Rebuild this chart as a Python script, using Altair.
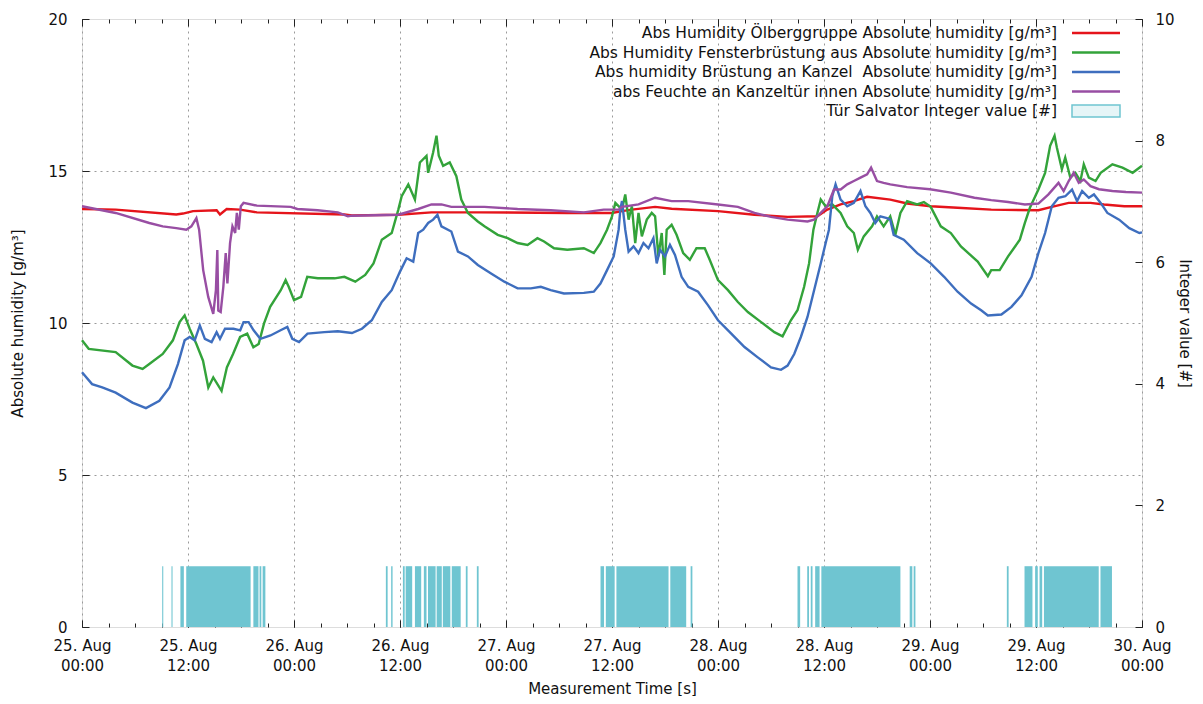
import altair as alt
import pandas as pd

# ---------------- data (hours after 25 Aug 00:00) -------------
red_h = [0, 3.81, 10.67, 11.43, 12.57, 15.24, 15.62, 16.38, 17.9, 19.8, 29.7,
         30.56, 35.81, 39.56, 45, 55, 60,
         61.13, 62.25, 64.88, 66.75, 72, 76.13, 79.88, 83.25, 84.38, 85.88, 87.38, 88.88, 91.5,
         93.41, 96.08, 99.12, 102.93, 108.27, 109.79, 111.7, 114.17, 115.7, 118, 120]
red_v = [13.75, 13.73, 13.57, 13.6, 13.68, 13.71, 13.57, 13.75, 13.73, 13.64, 13.57,
         13.54, 13.56, 13.64, 13.64, 13.62, 13.62,
         13.68, 13.73, 13.82, 13.76, 13.68, 13.56, 13.49, 13.51, 13.73, 13.9, 14.01, 14.15, 14.06,
         13.93, 13.84, 13.79, 13.73, 13.71, 13.82, 13.95, 13.95, 13.9, 13.84, 13.84]

green_h = [0, 0.76, 3.81, 5.71, 6.86, 7.62, 9.14, 10.29, 11.05, 11.62, 12.19, 12.95, 13.7, 14.3,
           14.86, 15.8, 16.4, 17.1, 17.9, 18.7, 19.4, 20.0, 20.6, 21.3, 22.5, 23.05, 23.4, 24,
           24.8, 25.5, 26.7, 28.6, 29.7,
           30.94, 32.06, 33, 33.94, 35.06, 35.81, 36.19, 36.94, 37.69, 38.25, 39, 39.19, 39.75,
           40.13, 40.39, 40.88, 41.63, 42.38, 42.94, 43.69, 44.81, 45.56, 47.06, 48.19, 49.31,
           50.44, 51.56, 52.31, 53.44, 54.94, 56.81, 57.94, 58.69, 59.44, 60, 60.38,
           61.13, 61.5, 61.88, 62.25, 62.63, 63, 63.38, 63.94, 64.5, 64.88, 65.25, 65.63, 65.93,
           66.19, 66.75, 67.31, 68.06, 68.81, 69.56, 70.5, 71.06, 72, 73.13, 74.25, 75.38, 76.88,
           78.38, 79.31, 80.25, 81, 81.75, 82.31, 82.8, 83.25, 83.63, 84.19, 84.94, 85.88, 86.63,
           87.38, 87.83, 88.5, 89.44, 90, 90.75,
           91.5, 92.08, 92.65, 93.41, 94.55, 95.31, 96.08, 97.22, 98.36, 99.5, 101.4, 102.55,
           102.93, 103.89, 104.84, 106.17, 106.74, 107.31, 108.27, 109.03, 109.6, 110.1, 110.36,
           110.93, 111.31, 111.89, 112.46, 113.03, 113.41, 113.98, 114.74, 115.32, 116.65, 117.79,
           118.94, 120]
green_v = [9.43, 9.15, 9.04, 8.6, 8.49, 8.65, 8.98, 9.43, 10.03, 10.25, 9.81, 9.31, 8.76, 7.88,
           8.21, 7.77, 8.54, 8.98, 9.54, 9.65, 9.2, 9.31, 9.98, 10.53, 11.08, 11.41, 11.19, 10.75,
           10.86, 11.52, 11.47, 11.47, 11.52,
           11.36, 11.58, 11.96, 12.74, 12.96, 13.73, 14.17, 14.56, 14.06, 15.28, 15.5, 14.94, 15.61,
           16.16, 15.5, 15.17, 15.28, 14.83, 14.06, 13.62, 13.34, 13.18, 12.9, 12.79, 12.63,
           12.57, 12.79, 12.68, 12.46, 12.41, 12.46, 12.3, 12.63, 13.07, 13.51, 13.95,
           13.73, 14.23, 13.4, 13.84, 12.63, 13.62, 12.85, 13.4, 13.62, 13.51, 12.19, 12.96, 11.58,
           13.07, 13.23, 12.9, 12.3, 12.08, 12.46, 12.46, 12.08, 11.41, 11.08, 10.69, 10.36, 10.03,
           9.7, 9.56, 10.09, 10.42, 11.19, 11.96, 13.07, 13.62, 14.06, 13.84, 13.9, 13.62, 13.18,
           12.96, 12.41, 12.85, 13.18, 13.51, 13.18,
           13.51, 12.9, 13.62, 14.01, 13.9, 13.98, 13.82, 13.18, 12.96, 12.52, 12.02, 11.54,
           11.74, 11.74, 12.19, 12.74, 13.29, 13.79, 14.39, 14.94, 15.83, 16.16, 15.77,
           15.06, 15.44, 14.78, 14.94, 14.67, 15.22, 14.78, 14.67, 14.94, 15.22, 15.11,
           14.94, 15.17]

blue_h = [0, 1.14, 2.29, 3.81, 5.71, 7.24, 8.76, 9.91, 10.86, 11.62, 12.19, 12.76, 13.34, 13.91,
          14.67, 15.24, 15.62, 16.19, 17.15, 17.91, 18.29, 18.86, 19.43, 20.19, 21.34, 22.48,
          23.24, 23.81, 24.57, 25.53, 27.43, 28.96, 30.56,
          31.69, 32.81, 33.94, 35.06, 36, 36.75, 37.5, 38.06, 38.63, 39.19, 39.75, 40.24, 40.69,
          41.81, 42.56, 43.69, 44.81, 46.31, 47.81, 49.31, 50.81, 51.94, 53.06, 54.56, 56.81,
          57.94, 58.69, 59.44, 60.19, 60.75, 60.94,
          61.13, 61.5, 61.88, 62.44, 63, 63.56, 64.13, 64.69, 65.06, 65.44, 66, 66.56, 67.13,
          67.88, 68.63, 69.75, 70.88, 72, 73.5, 75, 76.5, 78, 79.13, 79.88, 80.63, 81.38, 82.13,
          82.88, 83.63, 84.19, 84.56, 84.94, 85.31, 85.88, 86.63, 87.38, 88.13, 88.69, 89.25,
          89.81, 90.38, 91.13,
          91.5, 91.89, 93.03, 94.55, 96.08, 97.6, 99.12, 100.65, 101.79, 102.55, 104.08, 105.22,
          106.36, 107.5, 108.27, 109.03, 109.79, 110.55, 111.32, 112.08, 112.65, 113.22, 113.98,
          114.56, 115.32, 116.08, 117.41, 118.56, 119.7, 120]
blue_v = [8.38, 7.99, 7.88, 7.71, 7.38, 7.2, 7.44, 7.88, 8.65, 9.43, 9.54, 9.43, 9.92, 9.48,
          9.37, 9.7, 9.48, 9.81, 9.81, 9.76, 10.03, 10.03, 9.76, 9.48, 9.59, 9.76,
          9.87, 9.48, 9.37, 9.65, 9.7, 9.73, 9.67,
          9.81, 10.09, 10.69, 11.08, 11.69, 12.13, 12.02, 12.96, 13.07, 13.29, 13.4, 13.56, 13.18,
          13.01, 12.35, 12.19, 11.91, 11.63, 11.36, 11.14, 11.14, 11.19, 11.08, 10.97, 10.99,
          11.03, 11.3, 11.74, 12.19, 13.07, 13.73,
          14.01, 13.07, 12.35, 12.52, 12.3, 12.63, 12.46, 12.79, 11.96, 12.41, 12.19, 12.57, 12.24,
          11.52, 11.19, 11.03, 10.58, 10.09, 9.65, 9.21, 8.87, 8.54, 8.46, 8.6, 8.98, 9.54, 10.2,
          11.08, 11.96, 12.63, 13.07, 14.17, 14.56, 14.06, 13.84, 13.95, 14.34, 13.84, 13.62,
          13.29, 13.51, 13.45,
          13.4, 12.9, 12.74, 12.3, 11.96, 11.52, 11.03, 10.64, 10.42, 10.25, 10.28, 10.53,
          10.91, 11.52, 12.3, 12.96, 13.84, 14.12, 14.17, 14.39, 14.01, 14.34, 14.12,
          14.23, 13.95, 13.62, 13.4, 13.12, 12.96, 12.98]

purple_h = [0, 3.81, 7.62, 9.14, 10.67, 11.81, 12.38, 12.95, 13.26, 13.72, 14.29, 14.86, 15.16,
            15.32, 15.43, 15.7, 16.0, 16.27, 16.46, 16.76, 17.03, 17.34, 17.53, 17.75, 17.98,
            18.29, 19.81, 23.62, 24.38, 26.67, 28.96, 30.1,
            30.56, 35.81, 38.06, 39.56, 40.69, 41.81, 45.56, 49.31, 53.06, 56.81, 59.06, 60.75,
            61.13, 63, 64.88, 66.75, 68.63, 72, 74.25, 76.13, 78, 79.88, 82.13, 82.88, 83.63,
            84.38, 85.13, 85.88, 86.63, 87.38, 88.13, 88.88, 89.33, 90, 90.75, 91.5,
            93.41, 96, 98.36, 101.03, 102.93, 104.84, 106.74, 108.27, 109.41, 110.55, 111.13,
            111.7, 112.27, 112.84, 113.41, 114.17, 115.13, 116.65, 118.18, 120]
purple_v = [13.84, 13.62, 13.29, 13.18, 13.12, 13.07, 13.18, 13.45, 13.07, 11.74, 10.86, 10.3, 11.08,
            12.4, 10.41, 10.36, 11.19, 12.3, 11.3, 12.63, 13.18, 12.96, 13.62, 13.07, 13.84,
            13.95, 13.86, 13.82, 13.75, 13.71, 13.64, 13.51,
            13.53, 13.56, 13.75, 13.9, 13.9, 13.82, 13.82, 13.75, 13.71, 13.64, 13.73, 13.73,
            13.82, 13.9, 14.12, 14.01, 14.01, 13.9, 13.82, 13.62, 13.49, 13.4, 13.34, 13.4, 13.62,
            13.84, 14.39, 14.39, 14.56, 14.67, 14.78, 14.89, 15.11, 14.67, 14.61, 14.56,
            14.47, 14.4, 14.29, 14.12, 14.04, 13.98, 13.9, 13.93, 14.23, 14.61, 14.34,
            14.67, 14.94, 14.61, 14.72, 14.5, 14.4, 14.34, 14.31, 14.29]

door_start = [9.08, 10.13, 11.14, 11.8, 19.4, 20.1, 20.45, 34.4, 35.0, 36.33, 36.64, 37.69, 38.7,
              39.17, 40.15, 40.85, 41.86, 43.45, 44.7, 58.7, 59.3, 60.5, 66.6, 68.9, 81.0, 82.1,
              82.5, 83.0, 83.7, 93.7, 94.15, 104.7, 106.7, 107.9, 108.4, 108.9, 115.3]
door_end = [9.2, 10.25, 11.53, 19.09, 19.98, 20.3, 20.76, 34.6, 35.16, 36.53, 37.38, 38.4, 39.0,
            40.03, 40.73, 41.7, 42.87, 43.65, 44.9, 59.1, 60.3, 66.4, 68.4, 69.1, 81.3, 82.3,
            82.7, 83.5, 92.65, 94.0, 94.35, 104.9, 107.6, 108.2, 108.7, 115.1, 116.6]
door_value = [1] * len(door_start)

series_names = [
    "Abs Humidity Ölberggruppe Absolute humidity [g/m³]",
    "Abs Humidity Fensterbrüstung aus Absolute humidity [g/m³]",
    "Abs humidity Brüstung an Kanzel \u00a0Absolute humidity [g/m³]",
    "abs Feuchte an Kanzeltür innen Absolute humidity [g/m³]",
]
bar_name = "Tür Salvator Integer value [#]"
series_colors = ["#e5141b", "#33a33a", "#3e6ebe", "#984ea3"]
bar_color = "#6fc5d1"

# ---------------- build tables ----------------
base = pd.Timestamp("2016-08-25 00:00:00")


def ts(hours):
    return [(base + pd.Timedelta(hours=h)).strftime("%Y-%m-%dT%H:%M:%S") for h in hours]


frames = []
for name, hh, vv in zip(series_names, [red_h, green_h, blue_h, purple_h],
                        [red_v, green_v, blue_v, purple_v]):
    frames.append(pd.DataFrame({"t": ts(hh), "v": vv, "s": name}))
df_lines = pd.concat(frames, ignore_index=True)
df_lines["o"] = range(len(df_lines))

df_bars = pd.DataFrame({"t0": ts(door_start), "t1": ts(door_end), "v": door_value})

df_leg = pd.DataFrame({"label": series_names + [bar_name], "idx": list(range(5)),
                       "s": series_names + [bar_name]})

FONT = "DejaVu Sans"
FS = 15


def dt(h):
    return alt.DateTime(year=2016, month=8, date=25 + h // 24, hours=h % 24)


x_dom = [dt(0), dt(120)]
major_vals = [dt(h) for h in range(0, 121, 12)]
minor_vals = [dt(h) for h in range(0, 121, 3)]
xscale = alt.Scale(domain=x_dom, nice=False)
color_scale = alt.Scale(domain=series_names, range=series_colors)

common = dict(labelFont=FONT, titleFont=FONT, labelFontSize=FS, titleFontSize=FS,
              labelColor="#111", titleColor="#111", titleFontWeight="normal",
              tickColor="#222")

# main lines + grids
lines = alt.Chart(df_lines).mark_line(strokeWidth=2.4).encode(
    x=alt.X("t:T", scale=xscale,
            axis=alt.Axis(orient="bottom", values=major_vals, grid=True, gridDash=[2, 4],
                          gridColor="#9a9a9a", ticks=False, labels=False, domain=False,
                          title=None)),
    y=alt.Y("v:Q", scale=alt.Scale(domain=[0, 20], nice=False, zero=False),
            axis=alt.Axis(orient="left", values=[5, 10, 15], grid=True, gridDash=[2, 4],
                          gridColor="#9a9a9a", ticks=False, labels=False, domain=False,
                          title=None)),
    color=alt.Color("s:N", scale=color_scale, legend=None),
    order="o:Q",
)

bars = alt.Chart(df_bars).mark_rect(color=bar_color, opacity=1).encode(
    x=alt.X("t0:T", scale=xscale,
            axis=alt.Axis(orient="bottom", values=major_vals, tickSize=7, offset=-7,
                          domain=False, grid=False, labelFlush=False, labelOverlap=False,
                          labelExpr="[timeFormat(datum.value, '%d. %b'), timeFormat(datum.value, '%H:%M')]",
                          labelPadding=11, labelLineHeight=20, labelBaseline="top",
                          title="Measurement Time [s]", titlePadding=8, **common)),
    x2="t1:T",
    y=alt.Y("v:Q", scale=alt.Scale(domain=[0, 10], nice=False),
            axis=alt.Axis(orient="right", values=[0, 2, 4, 6, 8, 10], tickSize=7, offset=-7,
                          domain=False, grid=False, labelPadding=13, labelFlush=False,
                          title="Integer value [#]", titlePadding=2, **common)),
    y2=alt.datum(0),
)

left_axis = alt.Chart(df_lines).mark_line(opacity=0).encode(
    x=alt.X("t:T", scale=xscale,
            axis=alt.Axis(orient="bottom", values=minor_vals, tickSize=4, offset=-4,
                          labels=False, domain=False, grid=False, title=None, tickColor="#222")),
    y=alt.Y("v:Q", scale=alt.Scale(domain=[0, 20], nice=False, zero=False),
            axis=alt.Axis(orient="left", values=[0, 5, 10, 15, 20], tickSize=7, offset=-7,
                          domain=False, grid=False, labelPadding=15, labelFlush=False,
                          title="Absolute humidity [g/m³]", titlePadding=22, **common)),
    detail="s:N",
)

top_major = alt.Chart(df_lines).mark_line(opacity=0).encode(
    x=alt.X("t:T", scale=xscale,
            axis=alt.Axis(orient="top", values=major_vals, tickSize=7, offset=-7,
                          labels=False, domain=False, grid=False, title=None, tickColor="#222")),
    y=alt.Y("v:Q", scale=alt.Scale(domain=[0, 20], nice=False, zero=False), axis=None),
    detail="s:N",
)

top_minor = alt.Chart(df_lines).mark_line(opacity=0).encode(
    x=alt.X("t:T", scale=xscale,
            axis=alt.Axis(orient="top", values=minor_vals, tickSize=4, offset=-4,
                          labels=False, domain=False, grid=False, title=None, tickColor="#222")),
    y=alt.Y("v:Q", scale=alt.Scale(domain=[0, 20], nice=False, zero=False), axis=None),
    detail="s:N",
)

# legend (inside plot, top right)
leg_base = alt.Chart(df_leg).transform_calculate(ypos="14 + datum.idx * 19.5")

leg_text = leg_base.mark_text(align="right", baseline="middle", font=FONT, fontSize=15.5,
                              color="#111").encode(
    x=alt.value(975),
    y=alt.Y("ypos:Q", scale=None, axis=None),
    text="label:N",
)

leg_lines = leg_base.transform_filter("datum.idx < 4").mark_rule(strokeWidth=2.5).encode(
    x=alt.value(990), x2=alt.value(1038),
    y=alt.Y("ypos:Q", scale=None, axis=None),
    color=alt.Color("s:N", scale=color_scale, legend=None),
)

leg_box = leg_base.transform_filter("datum.idx == 4").transform_calculate(
    y0="datum.ypos - 6", y1="datum.ypos + 6"
).mark_rect(fill="#e6f5f7", stroke=bar_color, strokeWidth=1.5).encode(
    x=alt.value(990), x2=alt.value(1038),
    y=alt.Y("y0:Q", scale=None, axis=None), y2="y1:Q",
)

chart = alt.layer(
    bars, lines, left_axis, top_major, top_minor, leg_text, leg_lines, leg_box
).resolve_scale(y="independent").resolve_axis(x="independent", y="independent").properties(
    width=1060, height=608,
    autosize=alt.AutoSizeParams(type="none"),
    padding={"left": 74, "top": 11, "right": 53, "bottom": 69},
).configure_view(stroke="#333", strokeWidth=1).configure(background="white")

chart.save("out.html", embed_options={"renderer": "svg", "actions": False})
